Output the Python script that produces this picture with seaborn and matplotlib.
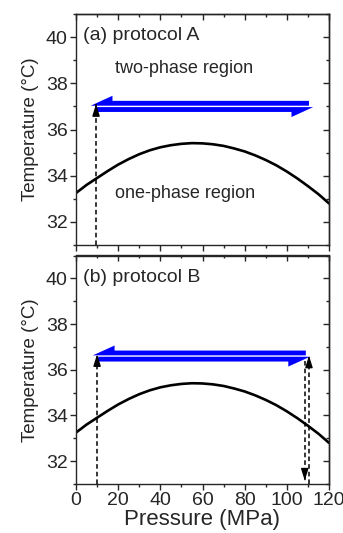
import numpy as np
import pandas as pd
import seaborn as sns
import matplotlib.pyplot as plt
from matplotlib.ticker import MultipleLocator

# cloud-point curve
pressure = [0, 5, 10, 15, 20, 25, 30, 35, 40, 45, 50, 55, 60,
            65, 70, 75, 80, 85, 90, 95, 100, 105, 110, 115, 120]
t_cloud = [33.25, 33.6, 33.9, 34.2, 34.48, 34.72, 34.93, 35.1, 35.23, 35.32, 35.38, 35.41, 35.4,
           35.36, 35.29, 35.18, 35.05, 34.88, 34.68, 34.45, 34.18, 33.88, 33.55, 33.2, 32.8]

panel_labels = ['(a) protocol A', '(b) protocol B']

# blue double arrow per panel: temperature, left tip, right tip
arrow_t = [37.0, 36.6]
arrow_left = [7.0, 8.0]
arrow_right = [112.5, 111.0]

# dashed vertical arrows: (pressure, start T, end T)
dashed_a = [(9.5, 31.0, 37.1)]
dashed_b = [(10.0, 31.0, 36.68), (110.5, 31.0, 36.62), (108.5, 36.4, 31.15)]

region_text = [('two-phase region', 18.5, 38.66), ('one-phase region', 18.5, 33.25)]

df = pd.DataFrame({'P': pressure, 'T': t_cloud})

sns.set_style('ticks')
plt.rcParams['font.family'] = ['Liberation Sans', 'DejaVu Sans']
plt.rcParams['axes.linewidth'] = 1.0

fig = plt.figure(figsize=(3.43, 5.33), dpi=100)
H = 533.0
ax_a = fig.add_axes([76 / 343, 1 - 245 / H, 253 / 343, 231 / H])
ax_b = fig.add_axes([76 / 343, 1 - 484 / H, 253 / 343, 228.5 / H])


def draw_dashed(ax, p, t0, t1):
    ax.plot([p, p], [t0, t1], color='k', lw=1.1, ls=(0, (3, 2)), zorder=3)
    step = 0.3 if t1 > t0 else -0.3
    ax.annotate('', xy=(p, t1), xytext=(p, t1 - step),
                arrowprops=dict(arrowstyle='-|>,head_length=0.7,head_width=0.22',
                                color='k', lw=1.0, shrinkA=0, shrinkB=0), zorder=4)


for i, ax in enumerate([ax_a, ax_b]):
    sns.lineplot(data=df, x='P', y='T', ax=ax, color='k', lw=1.9, zorder=2)
    ax.set_xlim(0, 120)
    ax.set_ylim(31, 41)
    ax.xaxis.set_major_locator(MultipleLocator(20))
    ax.xaxis.set_minor_locator(MultipleLocator(10))
    ax.yaxis.set_major_locator(MultipleLocator(2))
    ax.yaxis.set_minor_locator(MultipleLocator(1))
    ax.tick_params(which='both', direction='out', top=False, right=False,
                   labelsize=14, width=1.0, pad=2)
    ax.tick_params(which='major', length=4)
    ax.tick_params(which='minor', length=2)
    # mirrored ticks on the top and right, pointing inward
    sec_x = ax.secondary_xaxis('top')
    sec_x.xaxis.set_major_locator(MultipleLocator(20))
    sec_x.xaxis.set_minor_locator(MultipleLocator(10))
    sec_x.tick_params(which='both', direction='in', labeltop=False, width=1.0)
    sec_x.tick_params(which='major', length=4)
    sec_x.tick_params(which='minor', length=2)
    sec_y = ax.secondary_yaxis('right')
    sec_y.yaxis.set_major_locator(MultipleLocator(2))
    sec_y.yaxis.set_minor_locator(MultipleLocator(1))
    sec_y.tick_params(which='both', direction='in', labelright=False, width=1.0)
    sec_y.tick_params(which='major', length=4)
    sec_y.tick_params(which='minor', length=2)
    for s in ax.spines.values():
        s.set_visible(True)
        s.set_linewidth(1.0)
    ax.set_ylabel('Temperature (\u00b0C)', fontsize=13.5, labelpad=5)
    ax.text(3.4, 40.05, panel_labels[i], fontsize=14, va='center', ha='left')

    # blue double arrow: upper half pointing left, lower half pointing right
    t = arrow_t[i]
    hl = 10.3
    ax.arrow(arrow_right[i] - 2.0, t + 0.03, arrow_left[i] - arrow_right[i] + 2.0, 0,
             width=0.42, head_width=0.86, head_length=hl, shape='left',
             length_includes_head=True, color='#0000ff', lw=0, zorder=3)
    ax.arrow(arrow_left[i] + 2.5, t - 0.03, arrow_right[i] - arrow_left[i] - 2.5, 0,
             width=0.42, head_width=0.86, head_length=hl, shape='left',
             length_includes_head=True, color='#0000ff', lw=0, zorder=3)

for p, t0, t1 in dashed_a:
    draw_dashed(ax_a, p, t0, t1)
for p, t0, t1 in dashed_b:
    draw_dashed(ax_b, p, t0, t1)

for txt, x, y in region_text:
    ax_a.text(x, y, txt, fontsize=13, va='center', ha='left')

ax_a.set_xlabel('')
ax_a.tick_params(labelbottom=False)
ax_b.set_xlabel('Pressure (MPa)', fontsize=16, labelpad=0)

fig.savefig('out.png', dpi=100)
